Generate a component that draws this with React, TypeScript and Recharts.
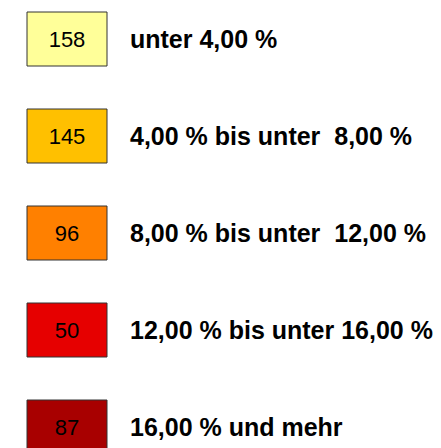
import React from 'react';
import { BarChart, Bar, XAxis, YAxis, Cell, LabelList } from 'recharts';

// Klassen (Anteil in %) und Anzahl der Gebiete je Klasse
const classLabels = [
  'unter 4,00 %',
  '4,00 % bis unter \u00A08,00 %',
  '8,00 % bis unter \u00A012,00 %',
  '12,00 % bis unter 16,00 %',
  '16,00 % und mehr',
];
const counts = [158, 145, 96, 50, 87];
const classColors = ['#FFFF99', '#FFC000', '#FF8000', '#E60000', '#A80000'];

// every legend box has the same length on the value axis
const boxSpan = 1;

const App: React.FC = () => {
  const data = classLabels.map((label, i) => ({
    label,
    count: counts[i],
    span: boxSpan,
  }));

  return (
    <div style={{ position: 'absolute', left: 0, top: 0, width: 441, height: 448, overflow: 'hidden', background: '#fff' }}>
      <div style={{ marginTop: -10 }}>
        <BarChart
          width={441}
          height={485}
          data={data}
          layout="vertical"
          margin={{ top: 0, right: 334, bottom: 0, left: 27 }}
        >
          <XAxis type="number" domain={[0, boxSpan]} hide />
          <YAxis type="category" dataKey="label" hide />
          <Bar dataKey="span" barSize={54} stroke="#333333" strokeWidth={1} isAnimationActive={false}>
            {data.map((d, i) => (
              <Cell key={d.label} fill={classColors[i]} />
            ))}
            <LabelList
              dataKey="count"
              position="center"
              fill="#000"
              fontSize={22}
              fontFamily="Liberation Sans, Arial, sans-serif"
            />
            <LabelList
              dataKey="label"
              position="right"
              offset={23}
              fill="#000"
              fontSize={25}
              fontWeight="bold"
              fontFamily="Liberation Sans, Arial, sans-serif"
            />
          </Bar>
        </BarChart>
      </div>
    </div>
  );
};

export default App;
